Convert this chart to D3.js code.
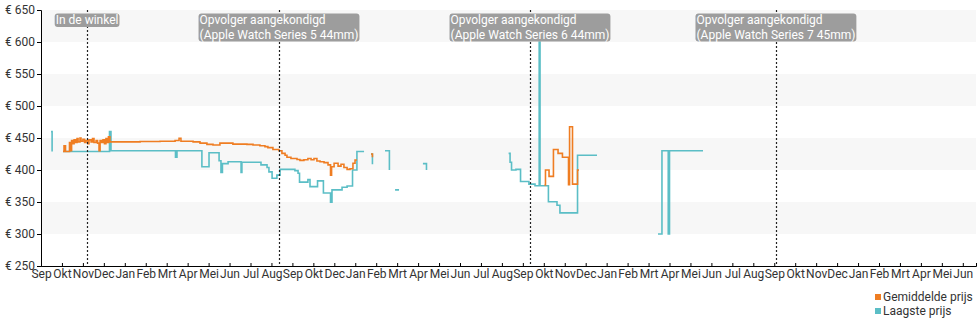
<!DOCTYPE html>
<html>
<head>
<meta charset="utf-8">
<script src="https://cdn.jsdelivr.net/npm/d3@7"></script>
<style>
  html, body { margin: 0; padding: 0; background: #fff; }
  svg { display: block; font-family: Roboto, "Noto Sans", sans-serif; }
</style>
</head>
<body>
<script>
// Month tick labels along the time axis (one per tick, in order)
const monthLabels = ["Sep","Okt","Nov","Dec","Jan","Feb","Mrt","Apr","Mei","Jun","Jul","Aug",
  "Sep","Okt","Dec","Jan","Feb","Mrt","Apr","Mei","Jun","Jul","Aug",
  "Sep","Okt","Nov","Dec","Jan","Feb","Mrt","Apr","Mei","Jun","Jul","Aug",
  "Sep","Okt","Nov","Dec","Jan","Feb","Mrt","Apr","Mei","Jun"];

// Price axis ticks (euro)
const priceTicks = [250, 300, 350, 400, 450, 500, 550, 600, 650];

// Series: [month offset, price]; null marks a gap in the price history
const averagePrice = [
  [1.05,429],[1.10,438],[1.17,429],[1.31,429],[1.36,443],[1.41,430],[1.46,446],[1.53,441],
  [1.58,447],[1.65,443],[1.72,449],[1.77,444],[1.86,450],[1.91,445],[2.00,448],[2.08,443],
  [2.15,446],[2.24,441],[2.29,447],[2.39,444],[2.46,449],[2.53,443],[2.63,446],[2.70,442],
  [2.77,430],[2.82,446],[2.89,443],[2.96,447],[3.03,441],[3.10,449],[3.15,443],[3.22,452],
  [3.29,444],[4.73,444.5],[5.68,445],[6.40,446],[6.59,449.5],[6.68,445],[7.26,444],[7.59,442],
  [7.92,440],[8.21,439],[8.54,442],[9.16,440.5],[9.83,440],[10.12,439],[10.45,438],[10.69,436.5],
  [10.83,435],[11.07,432],[11.36,430],[11.50,426],[11.65,423],[11.74,420],[11.93,418],[12.22,416.5],
  [12.36,415],[12.55,416],[12.74,418],[12.89,416],[13.03,418],[13.17,414],[13.32,413],[13.51,411.5],
  [13.70,408],[13.82,392],[13.87,405],[13.99,410.5],[14.18,406],[14.32,409],[14.46,404],[14.61,401],
  [14.75,402],[14.89,410.5],[14.99,415.6],[15.08,415.6],
  null,
  [15.75,425],[15.82,420],
  null,
  [24.03,376.5],[24.08,400],[24.25,390],[24.46,432],[24.68,426],[24.89,420],[25.18,377],
  [25.23,467.5],[25.37,378],[25.61,400],[25.68,400]
];

const lowestPrice = [
  [0.48,460],[0.53,429],
  null,
  [1.05,429],[3.27,460],[3.34,430],[6.42,420],[6.49,430],[7.68,405],[8.02,427],[8.50,414.5],
  [8.59,396],[8.66,410],[8.93,413],[9.55,396],[9.59,412],[10.50,408],[10.79,404],[10.88,397],
  [11.03,387],[11.26,392],[11.41,401],[12.12,399],[12.27,395],[12.34,381],[12.74,385],[12.84,374],
  [13.20,383],[13.48,364],[13.82,349.5],[13.89,369],[14.37,373],[14.61,375],[14.87,400],[15.08,429],
  [15.42,429],
  null,
  [15.75,425],[15.82,409],
  null,
  [16.42,430],[16.63,400],
  null,
  [16.90,369],[17.09,369],
  null,
  [18.23,410],[18.40,400],
  null,
  [22.32,426],[22.39,412],[22.46,400],[22.67,401],[22.89,382],[23.29,378],[23.58,375.5],[23.78,600],
  [23.82,375.5],[24.22,350.5],[24.63,345],[24.77,333],[25.61,423],[26.54,423],
  null,
  [29.45,300],[29.64,430],[29.94,300],[30.00,430],[31.60,430]
];

// Product events marked with a dotted line
const events = [
  { m: 2.20,  lines: ["In de winkel"] },
  { m: 11.36, lines: ["Opvolger aangekondigd", "(Apple Watch Series 5 44mm)"] },
  { m: 23.34, lines: ["Opvolger aangekondigd", "(Apple Watch Series 6 44mm)"] },
  { m: 35.08, lines: ["Opvolger aangekondigd", "(Apple Watch Series 7 45mm)"] }
];

const legendItems = [
  { name: "Gemiddelde prijs", color: "#ef7d22" },
  { name: "Laagste prijs", color: "#5bbec6" }
];

const W = 980, H = 325;
const margin = { top: 10, right: 4, bottom: 59, left: 41 };
const innerW = W - margin.left - margin.right;
const innerH = H - margin.top - margin.bottom;
const monthWidth = 20.95;

const x = d3.scaleLinear().domain([0, innerW / monthWidth]).range([0, innerW]);
const y = d3.scaleLinear().domain([250, 650]).range([innerH, 0]);

const svg = d3.select("body").append("svg").attr("width", W).attr("height", H);
const g = svg.append("g").attr("transform", `translate(${margin.left},${margin.top})`);

// alternating horizontal bands
const bandPairs = d3.pairs(priceTicks).filter((_, i) => i % 2 === 1);
g.append("g").selectAll("rect").data(bandPairs).join("rect")
  .attr("x", 0).attr("width", innerW)
  .attr("y", d => y(d[1])).attr("height", d => y(d[0]) - y(d[1]))
  .attr("fill", "#f7f7f7");

// price lines
const line = d3.line()
  .defined(d => d !== null)
  .x(d => x(d[0])).y(d => y(d[1]))
  .curve(d3.curveStepAfter);

g.append("path").datum(lowestPrice)
  .attr("fill", "none").attr("stroke", legendItems[1].color)
  .attr("stroke-width", 1.6).attr("d", line);

g.append("path").datum(averagePrice)
  .attr("fill", "none").attr("stroke", legendItems[0].color)
  .attr("stroke-width", 1.6).attr("d", line);

// event markers
const ev = g.append("g").selectAll("g").data(events).join("g");
ev.append("line")
  .attr("x1", d => Math.round(x(d.m)) + 0.5).attr("x2", d => Math.round(x(d.m)) + 0.5)
  .attr("y1", 0).attr("y2", innerH)
  .attr("stroke", "#222").attr("stroke-width", 1.2).attr("stroke-dasharray", "2,2");

ev.each(function(d) {
  const grp = d3.select(this);
  const box = grp.append("rect").attr("rx", 3).attr("ry", 3).attr("fill", "#9d9d9d");
  const txt = grp.append("text")
    .attr("font-size", 12).attr("fill", "#fff");
  txt.selectAll("tspan").data(d.lines).join("tspan")
    .attr("x", 0).attr("y", (_, i) => 14 + i * 14.5)
    .text(t => t);
  const bb = txt.node().getBBox();
  const cx = x(d.m);
  const left = cx - bb.width / 2;
  txt.attr("transform", `translate(${left},0)`);
  box.attr("x", left - 1).attr("y", bb.y + 0.5)
     .attr("width", bb.width + 2).attr("height", bb.height - 0.5);
});

// axes
const yAxis = d3.axisLeft(y).tickValues(priceTicks).tickSize(4).tickPadding(2)
  .tickFormat(v => "€ " + v);
const yg = g.append("g").call(yAxis);
yg.selectAll("text").attr("font-size", 12).attr("fill", "#333").attr("font-family", "Roboto, sans-serif");
yg.select(".domain").attr("stroke", "#000");

const xAxis = d3.axisBottom(x).tickValues(d3.range(monthLabels.length))
  .tickSize(-3).tickPadding(3).tickFormat((_, i) => monthLabels[i]);
const xg = g.append("g").attr("transform", `translate(0,${innerH})`).call(xAxis);
xg.selectAll("text").attr("font-size", 12).attr("fill", "#333").attr("font-family", "Roboto, sans-serif");
xg.select(".domain").attr("stroke", "#000");

// legend
const lg = svg.append("g").attr("transform", "translate(875,292)");
const li = lg.selectAll("g").data(legendItems).join("g")
  .attr("transform", (_, i) => `translate(0,${i * 14})`);
li.append("rect").attr("x", 0).attr("y", 2).attr("width", 6).attr("height", 6)
  .attr("fill", d => d.color);
li.append("text").attr("x", 8).attr("y", 9).attr("font-size", 12).attr("fill", "#333")
  .text(d => d.name);
</script>
</body>
</html>
